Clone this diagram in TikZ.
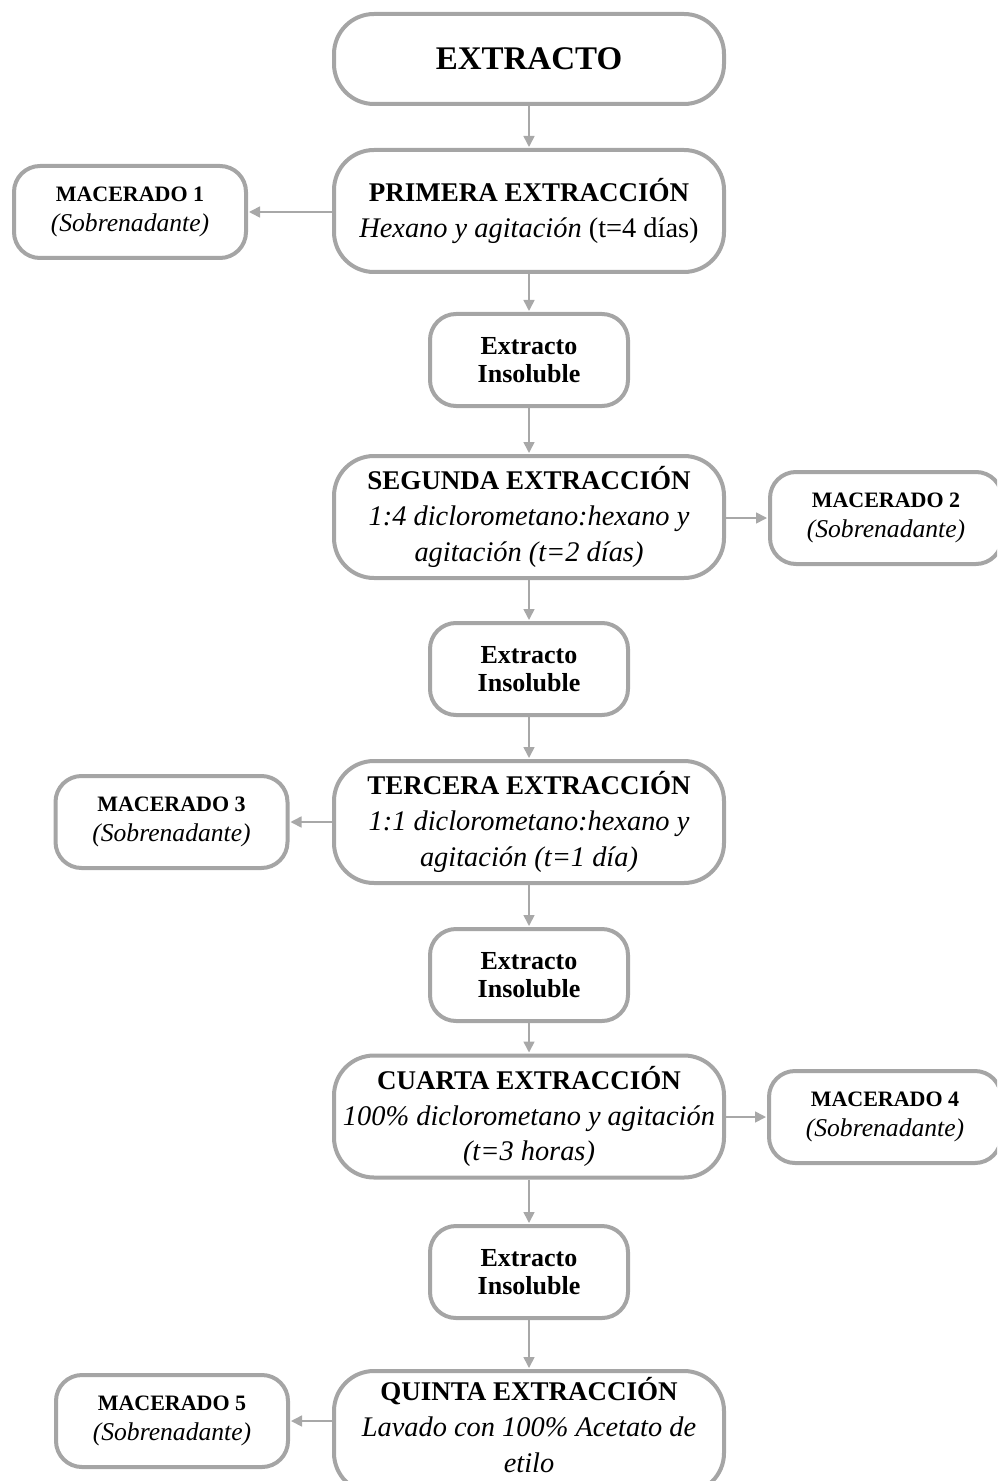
\documentclass[tikz,border=0pt]{standalone}
\usepackage{fontspec}
\setmainfont{Liberation Serif}
\usetikzlibrary{arrows.meta}
\definecolor{edgegray}{HTML}{A5A5A5}
\definecolor{linkgray}{HTML}{A8A8A8}
% label of a supernatant box
\newcommand\macerado[1]{{\bfseries\fontsize{11}{15}\selectfont MACERADO #1}\\\textit{(Sobrenadante)}}
\newcommand\insol{Extracto\\Insoluble}
% step title and description lines
\newcommand\steptitle[1]{{\bfseries\fontsize{13.5}{18}\selectfont #1}}
\newcommand\stepline[1]{{\fontsize{14.2}{18}\selectfont #1}}
\begin{document}
\begin{tikzpicture}[x=0.5pt,y=-0.5pt,
  box/.style={draw=edgegray, line width=2pt, fill=white, align=center, inner sep=2pt},
  mainbox/.style={box, rounded corners=20pt, minimum width=195pt, minimum height=61pt,
    font=\fontsize{14}{17.8}\selectfont},
  insbox/.style={box, rounded corners=13pt, minimum width=99pt, minimum height=46pt,
    font=\bfseries\fontsize{13}{14}\selectfont},
  macbox/.style={box, rounded corners=13pt, minimum width=116pt, minimum height=46pt,
    font=\fontsize{12.8}{15}\selectfont},
  link/.style={draw=linkgray, line width=0.8pt, -{Triangle[width=5.5pt,length=5.5pt]}, shorten >=0.5pt}
]
\useasboundingbox (0,0) rectangle (997,1481);
\clip (0,0) rectangle (997,1481);

% main column
\node[mainbox, minimum height=45pt, font=\bfseries\fontsize{16.5}{20}\selectfont] (ext) at (529,59) {EXTRACTO};
\node[mainbox] (e1) at (529,211) {\steptitle{PRIMERA EXTRACCIÓN}\\\stepline{\textit{Hexano y agitación} (t=4 días)}};
\node[insbox] (i1) at (529,360) {\insol};
\node[mainbox] (e2) at (529,517) {\steptitle{SEGUNDA EXTRACCIÓN}\\\stepline{\textit{1:4 diclorometano:hexano y}}\\\stepline{\textit{agitación (t=2 días)}}};
\node[insbox] (i2) at (529,669) {\insol};
\node[mainbox] (e3) at (529,822) {\steptitle{TERCERA EXTRACCIÓN}\\\stepline{\textit{1:1 diclorometano:hexano y}}\\\stepline{\textit{agitación (t=1 día)}}};
\node[insbox] (i3) at (529,975) {\insol};
\node[mainbox] (e4) at (529,1116.5) {\steptitle{CUARTA EXTRACCIÓN}\\\stepline{\textit{100\% diclorometano y agitación}}\\\stepline{\textit{(t=3 horas)}}};
\node[insbox] (i4) at (529,1272) {\insol};
\node[mainbox] (e5) at (529,1432) {};
\node[align=center, font=\fontsize{14}{17.8}\selectfont] (e5t) at (529,1425)
  {\steptitle{QUINTA EXTRACCIÓN}\\\stepline{\textit{Lavado con 100\% Acetato de}}\\\stepline{\textit{etilo}}};

% supernatant boxes
\node[macbox] (m1) at (130,212) {\macerado{1}};
\node[macbox] (m2) at (886,518) {\macerado{2}};
\node[macbox] (m3) at (171.5,822) {\macerado{3}};
\node[macbox] (m4) at (885,1117) {\macerado{4}};
\node[macbox] (m5) at (172,1421) {\macerado{5}};

% vertical flow
\draw[link] (ext) -- (e1);
\draw[link] (e1) -- (i1);
\draw[link] (i1) -- (e2);
\draw[link] (e2) -- (i2);
\draw[link] (i2) -- (e3);
\draw[link] (e3) -- (i3);
\draw[link] (i3) -- (e4);
\draw[link] (e4) -- (i4);
\draw[link] (i4) -- (e5);

% side outputs
\draw[link] (m1.east -| e1.west) -- (m1.east);
\draw[link] (m2.west -| e2.east) -- (m2.west);
\draw[link] (m3.east -| e3.west) -- (m3.east);
\draw[link] (m4.west -| e4.east) -- (m4.west);
\draw[link] (m5.east -| e5.west) -- (m5.east);
\end{tikzpicture}
\end{document}
